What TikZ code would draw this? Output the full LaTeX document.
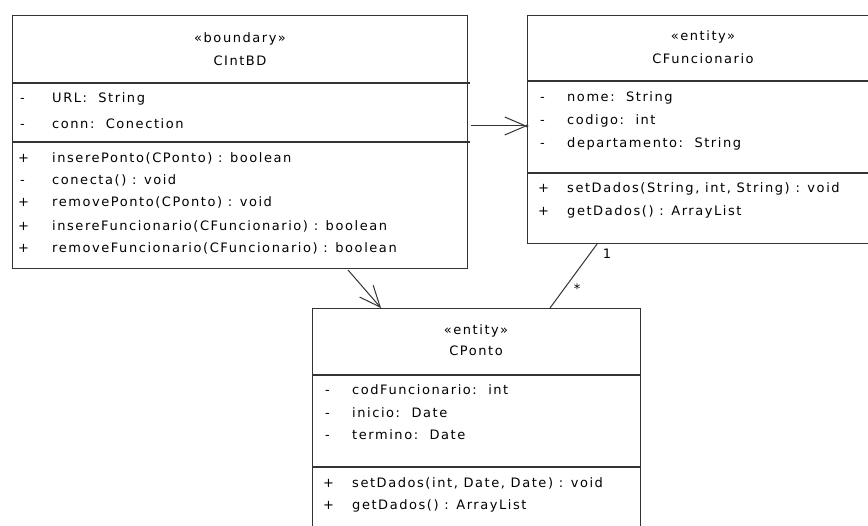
\documentclass[tikz,border=0pt]{standalone}
\usepackage{fontspec}
\newfontfamily\umlfont{DejaVu Sans}[LetterSpace=12]
\usetikzlibrary{arrows.meta,calc}
\definecolor{lc}{gray}{0.2}
\begin{document}
\begin{tikzpicture}[x=1pt,y=-1pt,
  box/.style={draw=lc, line width=1.1pt, rectangle, inner sep=0pt, anchor=north west},
  sep/.style={draw=lc, line width=1.1pt},
  txt/.style={inner sep=0pt, anchor=mid west, font=\umlfont\fontsize{13}{15}\selectfont},
  ttl/.style={inner sep=0pt, anchor=mid, font=\umlfont\fontsize{13}{15}\selectfont},
  link/.style={draw=lc, line width=1pt},
  dep/.style={link, -{Straight Barb[length=21pt,width=18pt,line width=1pt]}},
]
\useasboundingbox (0,0) rectangle (868,526);
\fill[white] (0,0) rectangle (868,526);
\begin{scope}
\clip (0,0) rectangle (868,526);
% boxes
\node[box, minimum width=455pt, minimum height=253pt] (cintbd) at (12,15) {};
\node[box, minimum width=353pt, minimum height=228pt] (cfunc) at (527,15) {};
\node[box, minimum width=328pt, minimum height=240pt] (cponto) at (312,308) {};
% separators
\draw[sep] (12,83) -- (470,83);
\draw[sep] (12,142) -- (470,142);
\draw[sep] (527,81) -- (880,81);
\draw[sep] (527,173) -- (880,173);
\draw[sep] (312,375) -- (640,375);
\draw[sep] (312,467) -- (640,467);
% CIntBD
\node[ttl] (t1a) at (240,40) {«boundary»};
\node[ttl] (t1b) at (240,63) {CIntBD};
\node[txt] (v1a) at (20,100) {-};
\node[txt] (a1a) at (52,100) {URL:\ \ String};
\node[txt] (v1b) at (20,126) {-};
\node[txt] (a1b) at (52,126) {conn:\ \ Conection};
\node[txt] (v1c) at (18,160) {+};
\node[txt] (m1a) at (52,160) {inserePonto(CPonto) : boolean};
\node[txt] (v1d) at (20,182) {-};
\node[txt] (m1b) at (52,182) {conecta() : void};
\node[txt] (v1e) at (18,204) {+};
\node[txt] (m1c) at (52,204) {removePonto(CPonto) : void};
\node[txt] (v1f) at (18,228) {+};
\node[txt] (m1d) at (52,228) {insereFuncionario(CFuncionario) : boolean};
\node[txt] (v1g) at (18,250) {+};
\node[txt] (m1e) at (52,250) {removeFuncionario(CFuncionario) : boolean};
% CFuncionario
\node[ttl] (t2a) at (703,38) {«entity»};
\node[ttl] (t2b) at (703,61) {CFuncionario};
\node[txt] (v2a) at (540,99) {-};
\node[txt] (a2a) at (567,99) {nome:\ \ String};
\node[txt] (v2b) at (540,122) {-};
\node[txt] (a2b) at (567,122) {codigo:\ \ int};
\node[txt] (v2c) at (540,145) {-};
\node[txt] (a2c) at (567,145) {departamento:\ \ String};
\node[txt] (v2d) at (538,190) {+};
\node[txt] (m2a) at (567,190) {setDados(String, int, String) : void};
\node[txt] (v2e) at (538,213) {+};
\node[txt] (m2b) at (567,213) {getDados() : ArrayList};
% CPonto
\node[ttl] (t3a) at (476,332) {«entity»};
\node[ttl] (t3b) at (476,353) {CPonto};
\node[txt] (v3a) at (325,392) {-};
\node[txt] (a3a) at (352,392) {codFuncionario:\ \ int};
\node[txt] (v3b) at (325,415) {-};
\node[txt] (a3b) at (352,415) {inicio:\ \ Date};
\node[txt] (v3c) at (325,437) {-};
\node[txt] (a3c) at (352,437) {termino:\ \ Date};
\node[txt] (v3d) at (323,485) {+};
\node[txt] (m3a) at (352,485) {setDados(int, Date, Date) : void};
\node[txt] (v3e) at (323,507) {+};
\node[txt] (m3b) at (352,507) {getDados() : ArrayList};
% connectors
\coordinate (d1s) at (471,126);
\coordinate (d1e) at (cfunc.west |- d1s);
\draw[dep] (d1s) -- (d1e);
\fill[lc] (d1e) circle (1.6pt);
\coordinate (d2s) at (348,270);
\coordinate (d2e) at ($(cponto.north west)+(69,0)$);
\draw[dep] (d2s) -- (d2e);
\coordinate (as) at ($(cfunc.south west)+(70,0)$);
\coordinate (ae) at ($(cponto.north west)+(238,0)$);
\draw[link] (as) -- (ae);
\node[txt, anchor=mid] (m1) at (607,256) {1};
\node[txt, anchor=mid] (m2) at (577,291) {*};
\end{scope}
\end{tikzpicture}
\end{document}
